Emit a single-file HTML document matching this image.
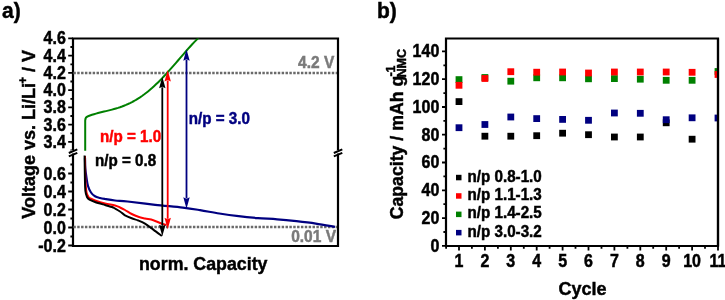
<!DOCTYPE html>
<html><head><meta charset="utf-8"><style>
html,body{margin:0;padding:0;background:#fff;width:725px;height:300px;overflow:hidden}
svg{display:block;will-change:transform}
text{font-family:"Liberation Sans", sans-serif;font-weight:bold;stroke-width:0.45px;paint-order:stroke}
.tl{font-size:16px;fill:#000;stroke:#000}
.ti{font-size:18px;fill:#000;stroke:#000}
.lb{font-size:21px;fill:#000;stroke:#000}
.gr{font-size:15.5px;fill:#7a7a7a;stroke:#7a7a7a}
.np{font-size:15.2px}
.lg{font-size:15.2px;fill:#000;stroke:#000}
</style></head><body>
<svg width="725" height="300" viewBox="0 0 725 300">
<path d="M73 38.5 H338 V246 H73 Z" fill="none" stroke="#000" stroke-width="2.2"/>
<text transform="translate(65.8 44.2) scale(1 1.09)" text-anchor="end" class="tl">4.6</text>
<text transform="translate(65.8 61.5) scale(1 1.09)" text-anchor="end" class="tl">4.4</text>
<text transform="translate(65.8 78.7) scale(1 1.09)" text-anchor="end" class="tl">4.2</text>
<text transform="translate(65.8 96.0) scale(1 1.09)" text-anchor="end" class="tl">4.0</text>
<text transform="translate(65.8 113.2) scale(1 1.09)" text-anchor="end" class="tl">3.8</text>
<text transform="translate(65.8 130.5) scale(1 1.09)" text-anchor="end" class="tl">3.6</text>
<text transform="translate(65.8 147.7) scale(1 1.09)" text-anchor="end" class="tl">3.4</text>
<text transform="translate(65.8 179.8) scale(1 1.09)" text-anchor="end" class="tl">0.6</text>
<text transform="translate(65.8 197.8) scale(1 1.09)" text-anchor="end" class="tl">0.4</text>
<text transform="translate(65.8 215.8) scale(1 1.09)" text-anchor="end" class="tl">0.2</text>
<text transform="translate(65.8 233.8) scale(1 1.09)" text-anchor="end" class="tl">0.0</text>
<text transform="translate(65.8 251.8) scale(1 1.09)" text-anchor="end" class="tl">-0.2</text>
<path d="M68.2 38.4H73M68.2 55.7H73M68.2 72.9H73M68.2 90.2H73M68.2 107.4H73M68.2 124.7H73M68.2 141.9H73M70.4 47.0H73M70.4 64.3H73M70.4 81.5H73M70.4 98.8H73M70.4 116.0H73M70.4 133.3H73M70.4 150.5H73M68.2 173.5H73M68.2 191.5H73M68.2 209.5H73M68.2 227.5H73M68.2 245.5H73M70.4 164.5H73M70.4 182.5H73M70.4 200.5H73M70.4 218.5H73M70.4 236.5H73" stroke="#000" stroke-width="1.8" fill="none"/>
<path d="M70.5 150.3h6 v3.2 h-6z" fill="#fff"/>
<path d="M68.8 153.0 L77.3 149.4 M68.8 156.4 L77.3 152.8" stroke="#000" stroke-width="2.0" fill="none"/>
<path d="M335.5 150.3h6 v3.2 h-6z" fill="#fff"/>
<path d="M333.8 153.0 L342.3 149.4 M333.8 156.4 L342.3 152.8" stroke="#000" stroke-width="2.0" fill="none"/>
<path d="M73.37 73 H337 M73.37 227.1 H337" stroke="#6a6a6a" stroke-width="2.5" stroke-dasharray="2.45 1.407" fill="none"/>
<text transform="translate(334.3 68) scale(1 1.09)" text-anchor="end" class="gr">4.2 V</text>
<text transform="translate(336 242.4) scale(1 1.09)" text-anchor="end" class="gr">0.01 V</text>
<clipPath id="ca"><rect x="73" y="38.5" width="265" height="207.5"/></clipPath>
<path d="M85.2 150.8 L85.2 120.5 Q85.3 117 88 116.3 L88.0 116.23 L90.0 115.49 L92.0 114.81 L94.0 114.19 L96.0 113.61 L98.0 113.08 L100.0 112.57 L102.0 112.08 L104.0 111.59 L106.0 111.11 L108.0 110.63 L110.0 110.13 L112.0 109.61 L114.0 109.06 L116.0 108.48 L118.0 107.87 L120.0 107.21 L122.0 106.50 L124.0 105.73 L126.0 104.91 L128.0 104.03 L130.0 103.09 L132.0 102.08 L134.0 101.00 L136.0 99.85 L138.0 98.62 L140.0 97.33 L142.0 95.96 L144.0 94.52 L146.0 93.00 L148.0 91.41 L150.0 89.75 L152.0 88.02 L154.0 86.21 L156.0 84.35 L158.0 82.42 L160.0 80.42 L162.0 78.38 L164.0 76.27 L166.0 74.12 L168.0 71.93 L170.0 69.70 L172.0 67.43 L174.0 65.14 L176.0 62.83 L178.0 60.50 L180.0 58.17 L182.0 55.84 L184.0 53.53 L186.0 51.23 L188.0 48.95 L190.0 46.72 L192.0 44.53 L194.0 42.40 L196.0 40.34 L198.0 38.35 L200.0 36.46" stroke="#008000" stroke-width="2" fill="none" stroke-linejoin="round" clip-path="url(#ca)"/>
<path d="M85 158 C85.05 159.67 85.05 164.67 85.30 168.00 C85.55 171.33 86.05 175.00 86.50 178.00 C86.95 181.00 87.25 183.58 88.00 186.00 C88.75 188.42 89.83 190.78 91.00 192.50 C92.17 194.22 93.50 195.38 95.00 196.30 C96.50 197.22 98.33 197.55 100.00 198.00 C101.67 198.45 102.50 198.58 105.00 199.00 C107.50 199.42 111.23 200.08 115.00 200.50 C118.77 200.92 120.90 200.78 127.60 201.50 C134.30 202.22 146.00 203.78 155.20 204.80 C164.40 205.82 175.33 206.72 182.80 207.60 C190.27 208.48 193.92 209.12 200.00 210.10 C206.08 211.08 212.87 212.48 219.30 213.50 C225.73 214.52 232.17 215.43 238.60 216.20 C245.03 216.97 251.47 217.58 257.90 218.10 C264.33 218.62 270.77 218.78 277.20 219.30 C283.63 219.82 290.07 220.48 296.50 221.20 C302.93 221.92 309.38 222.67 315.80 223.60 C322.22 224.53 331.80 226.27 335.00 226.80" stroke="#000080" stroke-width="2.2" fill="none" stroke-linejoin="round"/>
<path d="M85 156 C85.03 159.17 85.10 170.33 85.20 175.00 C85.30 179.67 85.38 181.08 85.60 184.00 C85.82 186.92 86.02 190.33 86.50 192.50 C86.98 194.67 87.75 195.97 88.50 197.00 C89.25 198.03 89.92 198.12 91.00 198.70 C92.08 199.28 92.67 199.70 95.00 200.50 C97.33 201.30 101.67 202.67 105.00 203.50 C108.33 204.33 112.50 204.83 115.00 205.50 C117.50 206.17 118.33 206.75 120.00 207.50 C121.67 208.25 123.05 208.92 125.00 210.00 C126.95 211.08 129.48 212.87 131.70 214.00 C133.92 215.13 136.08 216.05 138.30 216.80 C140.52 217.55 142.50 217.93 145.00 218.50 C147.50 219.07 150.68 219.40 153.30 220.20 C155.92 221.00 158.50 222.50 160.70 223.30 C162.90 224.10 165.53 224.72 166.50 225.00" stroke="#ff0000" stroke-width="2" fill="none" stroke-linejoin="round"/>
<path d="M84.6 155.5 C84.65 159.25 84.77 172.08 84.90 178.00 C85.03 183.92 85.05 187.83 85.40 191.00 C85.75 194.17 86.32 195.55 87.00 197.00 C87.68 198.45 88.17 198.87 89.50 199.70 C90.83 200.53 92.42 201.12 95.00 202.00 C97.58 202.88 102.17 204.17 105.00 205.00 C107.83 205.83 110.33 206.42 112.00 207.00 C113.67 207.58 113.67 207.75 115.00 208.50 C116.33 209.25 118.33 210.37 120.00 211.50 C121.67 212.63 123.05 214.17 125.00 215.30 C126.95 216.43 129.48 217.43 131.70 218.30 C133.92 219.17 136.08 219.60 138.30 220.50 C140.52 221.40 142.50 222.18 145.00 223.70 C147.50 225.22 150.50 227.55 153.30 229.60 C156.10 231.65 160.38 234.93 161.80 236.00" stroke="#000" stroke-width="2" fill="none" stroke-linejoin="round"/>
<path d="M162.3 87.3 V225.8" stroke="#000" stroke-width="1.8" fill="none"/><path d="M162.3 76.8 L165.5 88.3 L162.3 86.8 L159.10000000000002 88.3 Z" fill="#000"/><path d="M162.3 236.3 L165.5 224.8 L162.3 226.3 L159.10000000000002 224.8 Z" fill="#000"/>
<path d="M167.7 80.5 V218.8" stroke="#ff0000" stroke-width="1.8" fill="none"/><path d="M167.7 70 L170.89999999999998 81.5 L167.7 80.0 L164.5 81.5 Z" fill="#ff0000"/><path d="M167.7 229.3 L170.89999999999998 217.8 L167.7 219.3 L164.5 217.8 Z" fill="#ff0000"/>
<path d="M186.5 59.7 V198.3" stroke="#000080" stroke-width="1.8" fill="none"/><path d="M186.5 49.2 L189.7 60.7 L186.5 59.2 L183.3 60.7 Z" fill="#000080"/><path d="M186.5 208.8 L189.7 197.3 L186.5 198.8 L183.3 197.3 Z" fill="#000080"/>
<text transform="translate(100 141.7) scale(1 1.09)" class="np" fill="#ff0000" stroke="#ff0000">n/p = 1.0</text>
<text transform="translate(95 165.8) scale(1 1.09)" class="np" fill="#000" stroke="#000">n/p = 0.8</text>
<text transform="translate(188.7 123.8) scale(1 1.09)" class="np" fill="#000080" stroke="#000080">n/p = 3.0</text>
<text transform="translate(139 269.7) scale(1 1.04)" class="ti" style="font-size:17.8px">norm. Capacity</text>
<text transform="translate(35 218.7) rotate(-90) scale(1 1.04)" class="ti">Voltage vs. Li/Li<tspan font-size="11.5" dy="-7.5" dx="-0.7">+</tspan><tspan dy="7.5"> / V</tspan></text>
<text transform="translate(2 17.5) scale(1 1.09)" class="lb">a)</text>
<text transform="translate(377 17.5) scale(1 1.09)" class="lb">b)</text>
<path d="M446 38.5 H718 V246 H446 Z" fill="none" stroke="#000" stroke-width="2.2"/>
<text transform="translate(439.3 251.7) scale(1 1.09)" text-anchor="end" class="tl">0</text>
<text transform="translate(439.3 223.9) scale(1 1.09)" text-anchor="end" class="tl">20</text>
<text transform="translate(439.3 196.1) scale(1 1.09)" text-anchor="end" class="tl">40</text>
<text transform="translate(439.3 168.3) scale(1 1.09)" text-anchor="end" class="tl">60</text>
<text transform="translate(439.3 140.5) scale(1 1.09)" text-anchor="end" class="tl">80</text>
<text transform="translate(439.3 112.8) scale(1 1.09)" text-anchor="end" class="tl">100</text>
<text transform="translate(439.3 85.0) scale(1 1.09)" text-anchor="end" class="tl">120</text>
<text transform="translate(439.3 57.2) scale(1 1.09)" text-anchor="end" class="tl">140</text>
<text transform="translate(459.0 266.8) scale(1 1.09)" text-anchor="middle" class="tl">1</text>
<text transform="translate(484.9 266.8) scale(1 1.09)" text-anchor="middle" class="tl">2</text>
<text transform="translate(510.8 266.8) scale(1 1.09)" text-anchor="middle" class="tl">3</text>
<text transform="translate(536.7 266.8) scale(1 1.09)" text-anchor="middle" class="tl">4</text>
<text transform="translate(562.6 266.8) scale(1 1.09)" text-anchor="middle" class="tl">5</text>
<text transform="translate(588.5 266.8) scale(1 1.09)" text-anchor="middle" class="tl">6</text>
<text transform="translate(614.4 266.8) scale(1 1.09)" text-anchor="middle" class="tl">7</text>
<text transform="translate(640.3 266.8) scale(1 1.09)" text-anchor="middle" class="tl">8</text>
<text transform="translate(666.2 266.8) scale(1 1.09)" text-anchor="middle" class="tl">9</text>
<text transform="translate(692.1 266.8) scale(1 1.09)" text-anchor="middle" class="tl">10</text>
<text transform="translate(718.0 266.8) scale(1 1.09)" text-anchor="middle" class="tl">11</text>
<path d="M442.0 245.9H446M442.0 218.1H446M442.0 190.3H446M442.0 162.5H446M442.0 134.7H446M442.0 107.0H446M442.0 79.2H446M442.0 51.4H446M443.4 232.0H446M443.4 204.2H446M443.4 176.4H446M443.4 148.6H446M443.4 120.8H446M443.4 93.1H446M443.4 65.3H446M459.0 246V250.6M484.9 246V250.6M510.8 246V250.6M536.7 246V250.6M562.6 246V250.6M588.5 246V250.6M614.4 246V250.6M640.3 246V250.6M666.2 246V250.6M692.1 246V250.6M718.0 246V250.6M446.1 246V248.8M471.9 246V248.8M497.9 246V248.8M523.8 246V248.8M549.6 246V248.8M575.5 246V248.8M601.5 246V248.8M627.4 246V248.8M653.2 246V248.8M679.1 246V248.8M705.0 246V248.8" stroke="#000" stroke-width="1.8" fill="none"/>
<text transform="translate(558.5 294.8) scale(1 1.04)" class="ti">Cycle</text>
<text transform="translate(403 219.3) rotate(-90) scale(1 1.04)" class="ti" style="font-size:17.7px">Capacity / mAh g</text>
<text transform="translate(394.6 76.6) rotate(-90) scale(1 1.04)" class="ti" style="font-size:12.5px">-1</text>
<text transform="translate(406.3 77.5) rotate(-90) scale(1 1.04)" class="ti" style="font-size:12.6px">NMC</text>
<clipPath id="cb"><rect x="446" y="38.5" width="272" height="207.5"/></clipPath>
<g clip-path="url(#cb)"><rect x="455.6" y="98.2" width="6.8" height="6.8" fill="#000"/><rect x="455.6" y="76.2" width="6.8" height="6.8" fill="#008000"/><rect x="455.6" y="81.9" width="6.8" height="6.8" fill="#ff0000"/><rect x="455.6" y="124.3" width="6.8" height="6.8" fill="#000080"/><rect x="481.5" y="132.8" width="6.8" height="6.8" fill="#000"/><rect x="481.5" y="74.1" width="6.8" height="6.8" fill="#008000"/><rect x="481.5" y="75.1" width="6.8" height="6.8" fill="#ff0000"/><rect x="481.5" y="121.1" width="6.8" height="6.8" fill="#000080"/><rect x="507.4" y="132.8" width="6.8" height="6.8" fill="#000"/><rect x="507.4" y="77.8" width="6.8" height="6.8" fill="#008000"/><rect x="507.4" y="68.3" width="6.8" height="6.8" fill="#ff0000"/><rect x="507.4" y="113.6" width="6.8" height="6.8" fill="#000080"/><rect x="533.3" y="132.3" width="6.8" height="6.8" fill="#000"/><rect x="533.3" y="74.4" width="6.8" height="6.8" fill="#008000"/><rect x="533.3" y="68.8" width="6.8" height="6.8" fill="#ff0000"/><rect x="533.3" y="115.2" width="6.8" height="6.8" fill="#000080"/><rect x="559.2" y="129.8" width="6.8" height="6.8" fill="#000"/><rect x="559.2" y="74.4" width="6.8" height="6.8" fill="#008000"/><rect x="559.2" y="68.6" width="6.8" height="6.8" fill="#ff0000"/><rect x="559.2" y="116.0" width="6.8" height="6.8" fill="#000080"/><rect x="585.1" y="131.3" width="6.8" height="6.8" fill="#000"/><rect x="585.1" y="75.4" width="6.8" height="6.8" fill="#008000"/><rect x="585.1" y="69.6" width="6.8" height="6.8" fill="#ff0000"/><rect x="585.1" y="116.9" width="6.8" height="6.8" fill="#000080"/><rect x="611.0" y="133.6" width="6.8" height="6.8" fill="#000"/><rect x="611.0" y="75.2" width="6.8" height="6.8" fill="#008000"/><rect x="611.0" y="68.6" width="6.8" height="6.8" fill="#ff0000"/><rect x="611.0" y="109.6" width="6.8" height="6.8" fill="#000080"/><rect x="636.9" y="133.6" width="6.8" height="6.8" fill="#000"/><rect x="636.9" y="75.8" width="6.8" height="6.8" fill="#008000"/><rect x="636.9" y="68.6" width="6.8" height="6.8" fill="#ff0000"/><rect x="636.9" y="109.9" width="6.8" height="6.8" fill="#000080"/><rect x="662.8" y="119.4" width="6.8" height="6.8" fill="#000"/><rect x="662.8" y="76.9" width="6.8" height="6.8" fill="#008000"/><rect x="662.8" y="68.6" width="6.8" height="6.8" fill="#ff0000"/><rect x="662.8" y="116.3" width="6.8" height="6.8" fill="#000080"/><rect x="688.7" y="135.8" width="6.8" height="6.8" fill="#000"/><rect x="688.7" y="76.9" width="6.8" height="6.8" fill="#008000"/><rect x="688.7" y="68.9" width="6.8" height="6.8" fill="#ff0000"/><rect x="688.7" y="114.4" width="6.8" height="6.8" fill="#000080"/><rect x="714.6" y="68.1" width="6.8" height="6.8" fill="#008000"/><rect x="714.6" y="71.1" width="6.8" height="6.8" fill="#ff0000"/><rect x="714.6" y="114.6" width="6.8" height="6.8" fill="#000080"/></g>
<path d="M718 38.5 V246" stroke="#000" stroke-width="2.2"/>
<rect x="456" y="174.8" width="5.5" height="5.5" fill="#000"/>
<text transform="translate(467.5 181.5) scale(1 1.09)" class="lg">n/p 0.8-1.0</text>
<rect x="456" y="193.2" width="5.5" height="5.5" fill="#ff0000"/>
<text transform="translate(467.5 199.9) scale(1 1.09)" class="lg">n/p 1.1-1.3</text>
<rect x="456" y="211.6" width="5.5" height="5.5" fill="#008000"/>
<text transform="translate(467.5 218.3) scale(1 1.09)" class="lg">n/p 1.4-2.5</text>
<rect x="456" y="229.9" width="5.5" height="5.5" fill="#000080"/>
<text transform="translate(467.5 236.7) scale(1 1.09)" class="lg">n/p 3.0-3.2</text>
</svg>
</body></html>
